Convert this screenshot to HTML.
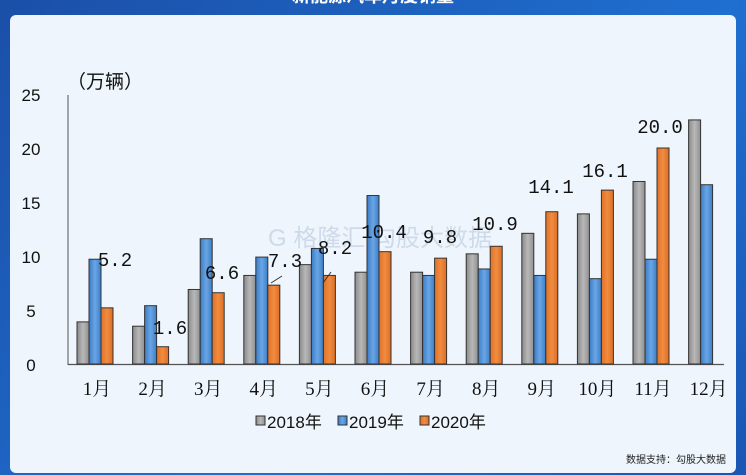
<!DOCTYPE html>
<html><head><meta charset="utf-8"><style>
body{margin:0;width:746px;height:475px;overflow:hidden;background:linear-gradient(135deg,#1b4fa8,#1f6fd0 60%,#1a56b4);}
</style></head><body>
<svg width="746" height="475" xmlns="http://www.w3.org/2000/svg" style="position:absolute;left:0;top:0">
<defs>
<linearGradient id="g" x1="0" x2="1"><stop offset="0" stop-color="#8a8a8a"/><stop offset="0.5" stop-color="#b8b8b8"/><stop offset="1" stop-color="#909090"/></linearGradient>
<linearGradient id="b" x1="0" x2="1"><stop offset="0" stop-color="#3a7cc8"/><stop offset="0.5" stop-color="#6aa6e4"/><stop offset="1" stop-color="#3c7ec8"/></linearGradient>
<linearGradient id="o" x1="0" x2="1"><stop offset="0" stop-color="#e07228"/><stop offset="0.5" stop-color="#f08c40"/><stop offset="1" stop-color="#dc6e24"/></linearGradient>
</defs>
<text x="373" y="2" fill="#fff" font-family="Liberation Sans,Noto Sans CJK SC,sans-serif" font-size="18" font-weight="bold" text-anchor="middle">新能源汽车月度销量</text>
<rect x="10" y="15" width="726" height="458" rx="6" fill="#eef5fc"/>
<text x="67" y="88" font-family="Liberation Sans,Noto Sans CJK SC,sans-serif" font-size="19" fill="#111">（万辆）</text>
<g font-family="Liberation Sans,sans-serif" font-size="17" fill="#111" text-anchor="middle">
<text x="31" y="101">25</text><text x="31" y="155">20</text><text x="31" y="209">15</text><text x="31" y="263">10</text><text x="31" y="317">5</text><text x="31" y="371">0</text>
</g>
<line x1="68" y1="95" x2="68" y2="365" stroke="#555" stroke-width="1"/>
<line x1="68" y1="364.5" x2="724" y2="364.5" stroke="#555" stroke-width="1.2"/>
<text x="268" y="246" font-family="Liberation Sans,Noto Sans CJK SC,sans-serif" font-size="24" fill="#9fb4d0" opacity="0.4">G 格隆汇 勾股大数据</text>
<g id="bars" stroke="#333" stroke-width="1"></g>
<g font-family="Liberation Serif,Noto Serif CJK SC,serif" font-size="19" fill="#111" text-anchor="middle" id="xl"></g>
<g font-family="Liberation Mono,monospace" font-size="19" fill="#111" id="lb"></g>
<g font-family="Liberation Sans,Noto Sans CJK SC,sans-serif" font-size="17" fill="#111">
<rect x="256" y="416" width="9" height="9" fill="url(#g)" stroke="#333"/><text x="267" y="428">2018年</text>
<rect x="338" y="416" width="9" height="9" fill="url(#b)" stroke="#333"/><text x="349" y="428">2019年</text>
<rect x="420" y="416" width="9" height="9" fill="url(#o)" stroke="#333"/><text x="431" y="428">2020年</text>
</g>
<text x="726" y="463" font-family="Liberation Sans,Noto Sans CJK SC,sans-serif" font-size="10" fill="#222" text-anchor="end">数据支持：勾股大数据</text>
</svg>
<script>
var a=[3.9,3.5,6.9,8.2,9.2,8.5,8.5,10.2,12.1,13.9,16.9,22.6],
b=[9.7,5.4,11.6,9.9,10.7,15.6,8.2,8.8,8.2,7.9,9.7,16.6],
c=[5.2,1.6,6.6,7.3,8.2,10.4,9.8,10.9,14.1,16.1,20.0,null];
var lp=[[115,266],[170,334],[222,279],[285,267],[335,254],[384,238],[440,243],[495,230],[551,193],[605,177],[660,133]];
var ns="http://www.w3.org/2000/svg",B=document.getElementById('bars'),X=document.getElementById('xl'),L=document.getElementById('lb');
function r(x,v,f){if(v==null)return;var h=v*10.8,e=document.createElementNS(ns,'rect');e.setAttribute('x',x);e.setAttribute('y',364-h);e.setAttribute('width',12);e.setAttribute('height',h);e.setAttribute('fill',f);B.appendChild(e);}
for(var i=0;i<12;i++){var cx=96+i*55.6;r(cx-19,a[i],'url(#g)');r(cx-7,b[i],'url(#b)');r(cx+5,c[i],'url(#o)');
var t=document.createElementNS(ns,'text');t.setAttribute('x',cx+1);t.setAttribute('y',395);t.textContent=(i+1)+'月';X.appendChild(t);
if(c[i]!=null){var u=document.createElementNS(ns,'text');u.setAttribute('x',lp[i][0]);u.setAttribute('y',lp[i][1]);u.setAttribute('text-anchor','middle');u.textContent=c[i].toFixed(1);L.appendChild(u);}}
[[271,283,282,276],[323,283,331,272]].forEach(function(p){var l=document.createElementNS(ns,'line');l.setAttribute('x1',p[0]);l.setAttribute('y1',p[1]);l.setAttribute('x2',p[2]);l.setAttribute('y2',p[3]);l.setAttribute('stroke','#333');B.appendChild(l);});
</script>
</body></html>
